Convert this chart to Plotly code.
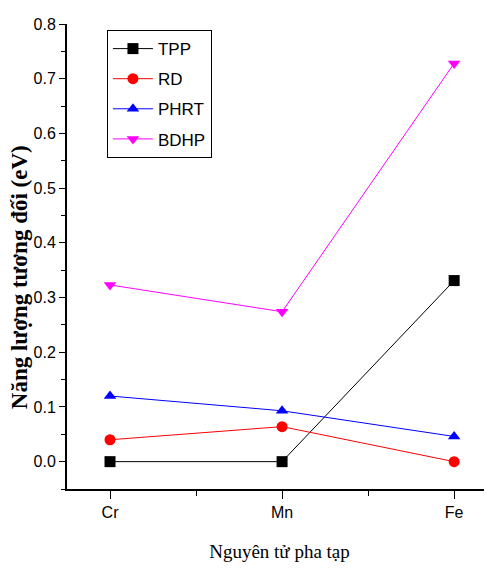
import plotly.graph_objects as go

categories = ["Cr", "Mn", "Fe"]
x_pos = [0, 1, 2]
tpp = [0.0, 0.0, 0.331]
rd = [0.040, 0.064, 0.0]
phrt = [0.120, 0.093, 0.046]
bdhp = [0.323, 0.274, 0.728]
y_ticks = [0.0, 0.1, 0.2, 0.3, 0.4, 0.5, 0.6, 0.7, 0.8]

series = [
    ("TPP", tpp, "black", "square"),
    ("RD", rd, "red", "circle"),
    ("PHRT", phrt, "blue", "triangle-up"),
    ("BDHP", bdhp, "magenta", "triangle-down"),
]

fig = go.Figure()
for name, vals, col, sym in series:
    fig.add_trace(go.Scatter(
        x=x_pos, y=vals, name=name, mode="lines+markers", legendgroup=name,
        line=dict(color=col, width=1),
        marker=dict(symbol=sym, size=11, color=col),
    ))

tickfont = dict(family="Liberation Sans, Arial", size=16, color="black")

fig.update_layout(
    width=484, height=561,
    margin=dict(l=59, r=0, t=16, b=80),
    paper_bgcolor="white", plot_bgcolor="white",
    showlegend=True,
    legend=dict(
        x=0.094, y=0.987, xanchor="left", yanchor="top",
        bordercolor="black", borderwidth=1, bgcolor="white",
        font=dict(family="Liberation Sans, Arial", size=17, color="black"),
        itemwidth=40, tracegroupgap=5,
    ),
    xaxis=dict(
        range=[-0.25, 2.22], tickvals=x_pos, ticktext=categories, automargin=False,
        showgrid=False, zeroline=False, showline=True, linecolor="black", linewidth=2,
        ticks="outside", ticklen=8, tickwidth=1, tickcolor="black",
        minor=dict(dtick=0.5, tick0=0, ticks="outside", ticklen=5, tickcolor="black"),
        tickfont=tickfont,
        title=dict(text="Nguyên tử pha tạp", font=dict(family="Liberation Serif, Times New Roman", size=19, color="black"), standoff=24),
    ),
    yaxis=dict(
        range=[-0.05, 0.8], tickvals=y_ticks, ticktext=[f"{v:.1f}" for v in y_ticks], automargin=False,
        showgrid=False, zeroline=False, showline=True, linecolor="black", linewidth=2,
        ticks="outside", ticklen=6, tickwidth=1, tickcolor="black",
        minor=dict(dtick=0.05, tick0=0, ticks="outside", ticklen=4, tickcolor="black"),
        tickfont=tickfont,
    ),
    annotations=[dict(
        text="<b>Năng lượng tương đối (eV)</b>", textangle=-90,
        xref="paper", yref="paper", x=-0.11, y=0.456, xanchor="center", yanchor="middle",
        showarrow=False,
        font=dict(family="Liberation Serif, Times New Roman", size=23, color="black"),
    )],
)

fig.write_html("out.html")
